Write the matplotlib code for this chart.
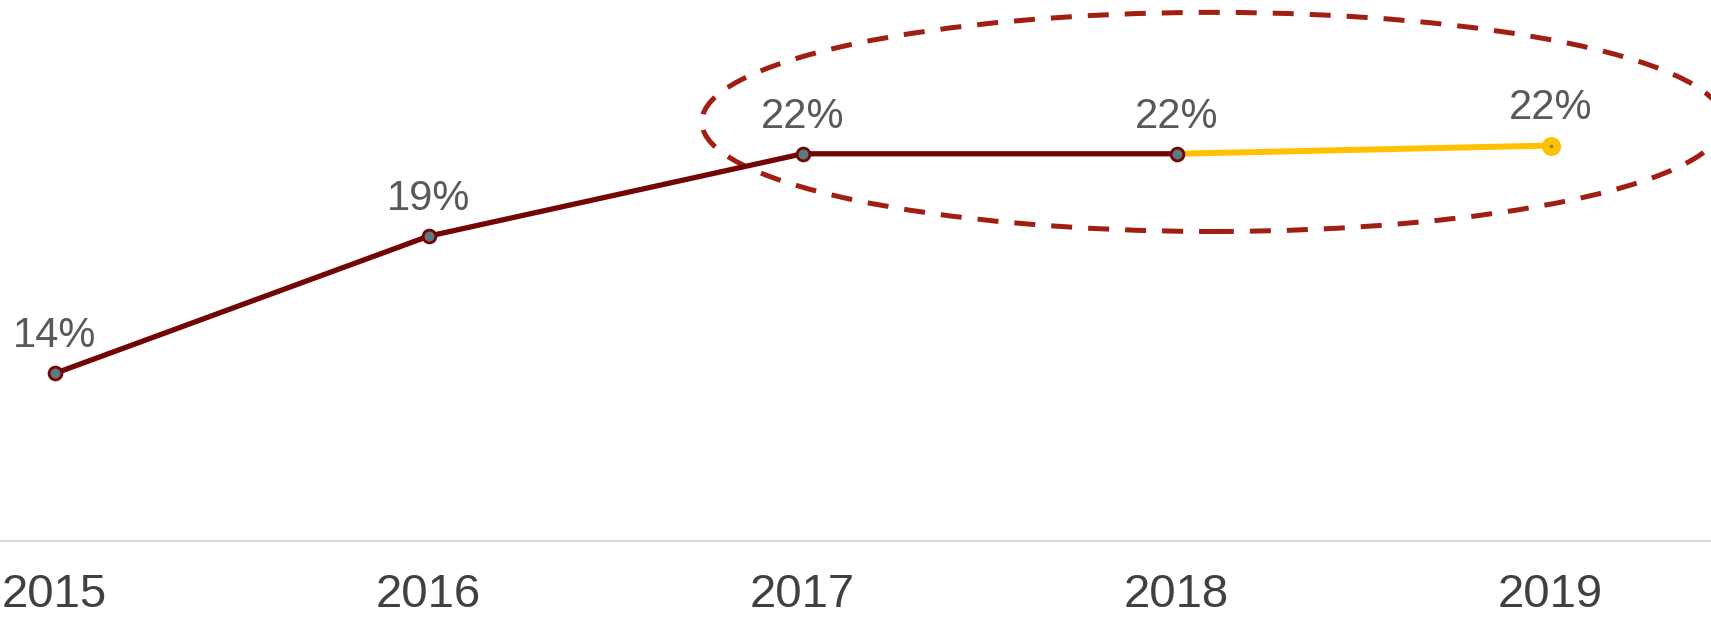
import matplotlib.pyplot as plt
from matplotlib.patches import Ellipse

years = [2015, 2016, 2017, 2018, 2019]
values = [14.1, 19.1, 22.1, 22.1, 22.4]
labels = ['14%', '19%', '22%', '22%', '22%']

plt.rcParams['font.family'] = ['Liberation Sans', 'DejaVu Sans']

fig = plt.figure(figsize=(17.11, 6.2), dpi=100)
ax = fig.add_axes([0, 79 / 620, 1, 541 / 620])

# actual values (dark red) and forecast segment (yellow)
ax.plot(years[:4], values[:4], color='#730505', lw=3.8, zorder=3,
        solid_capstyle='round')
ax.plot(years[3:], values[3:], color='#ffc000', lw=4.3, zorder=2)
ax.scatter(years[:4], values[:4], s=85, color='#5b7b80', edgecolor='#730505',
           linewidth=2, zorder=4)
ax.scatter(years[4:], values[4:], s=160, color='#ffc000', zorder=4)
ax.scatter(years[4:], values[4:], s=2, color='#8a7a40', zorder=5)

for x, y, t in zip(years, values, labels):
    ax.annotate(t, (x, y), xytext=(0, 26.8), textcoords='offset points',
                ha='center', va='center', fontsize=30, color='#595959')

# dashed highlight around 2017-2019
ell = Ellipse((2018.097, 23.26), width=2.733, height=7.98, fill=False,
              edgecolor='#a01e12', lw=3.6, linestyle=(0, (4.2, 3.2)), zorder=1,
              clip_on=False)
ax.add_patch(ell)

ax.set_xlim(2014.854, 2019.429)
ax.set_ylim(8, 27.7)
ax.set_xticks(years)
ax.set_xticklabels([str(y) for y in years], fontsize=34, color='#404040')
ax.tick_params(axis='x', length=0, pad=23)
ax.set_yticks([])
for s in ['top', 'right', 'left']:
    ax.spines[s].set_visible(False)
ax.spines['bottom'].set_color('#d9d9d9')
ax.spines['bottom'].set_linewidth(1.5)

fig.savefig('out.png', dpi=100)
